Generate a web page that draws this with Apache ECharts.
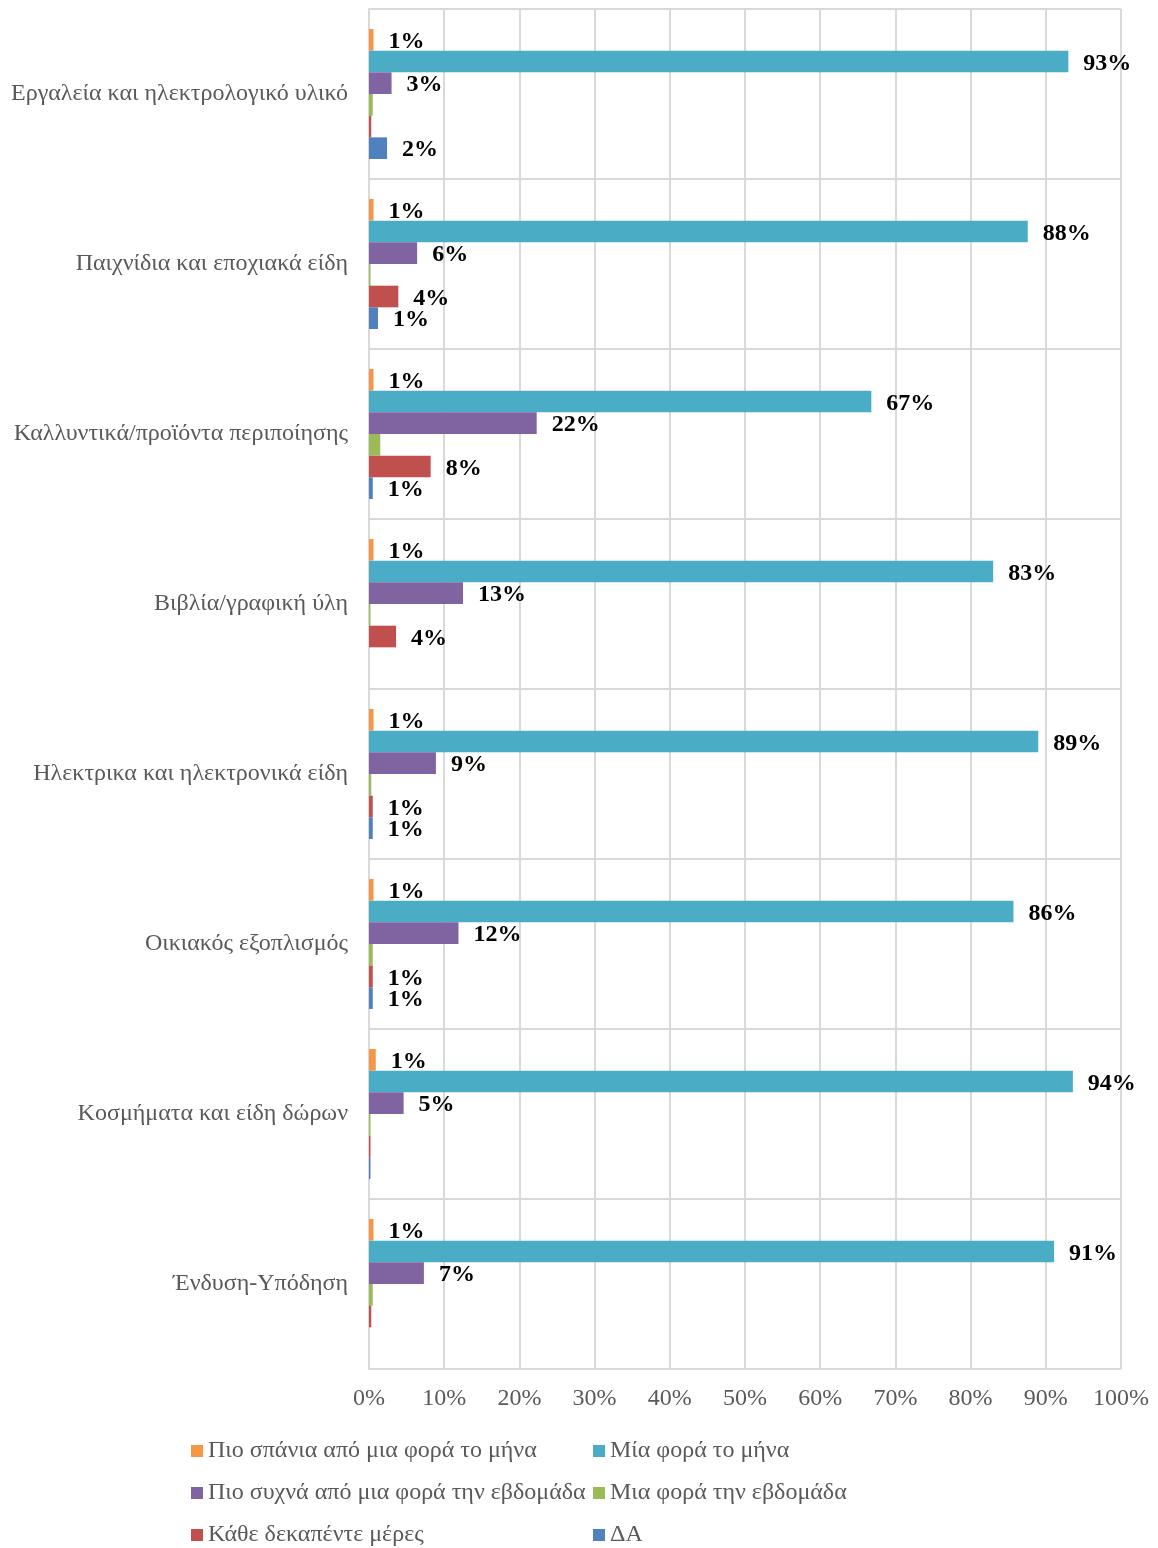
<!DOCTYPE html>
<html>
<head>
<meta charset="utf-8">
<script src="https://cdn.jsdelivr.net/npm/echarts@6/dist/echarts.min.js"></script>
<style>
  html, body { margin: 0; padding: 0; background: #fff; }
  #chart { width: 1158px; height: 1548px; }
</style>
</head>
<body>
<div id="chart"></div>
<script>
// Product categories, listed top to bottom
const categories = [
  'Εργαλεία και ηλεκτρολογικό υλικό',
  'Παιχνίδια και εποχιακά είδη',
  'Καλλυντικά/προϊόντα περιποίησης',
  'Βιβλία/γραφική ύλη',
  'Ηλεκτρικα και ηλεκτρονικά είδη',
  'Οικιακός εξοπλισμός',
  'Κοσμήματα και είδη δώρων',
  'Ένδυση-Υπόδηση'
];

// Purchase frequency shares (%) per category
const rarerThanMonthly  = [0.6, 0.6, 0.6, 0.6, 0.6, 0.6, 0.9, 0.6];
const onceAMonth        = [93.0, 87.6, 66.8, 83.0, 89.0, 85.7, 93.6, 91.1];
const moreThanWeekly    = [3.0, 6.4, 22.3, 12.5, 8.9, 11.9, 4.6, 7.3];
const onceAWeek         = [0.5, 0.2, 1.5, 0.2, 0.3, 0.5, 0.2, 0.5];
const everyFortnight    = [0.3, 3.9, 8.2, 3.6, 0.5, 0.5, 0.2, 0.3];
const noAnswer          = [2.4, 1.2, 0.5, 0.0, 0.5, 0.5, 0.2, 0.0];

// Category indices whose bar carries a value label (null = every category)
const labelledRarer     = null;
const labelledMonthly   = null;
const labelledMore      = null;
const labelledWeekly    = [];
const labelledFortnight = [1, 2, 3, 4, 5];
const labelledNoAnswer  = [0, 1, 2, 4, 5];

// x-axis ticks
const xTicks = { min: 0, max: 100, interval: 10 };

const seriesDefs = [
  { name: 'Πιο σπάνια από μια φορά το μήνα', data: rarerThanMonthly, labelled: labelledRarer, color: '#F79646' },
  { name: 'Μία φορά το μήνα', data: onceAMonth, labelled: labelledMonthly, color: '#4BACC6' },
  { name: 'Πιο συχνά από μια φορά την εβδομάδα', data: moreThanWeekly, labelled: labelledMore, color: '#8064A2' },
  { name: 'Μια φορά την εβδομάδα', data: onceAWeek, labelled: labelledWeekly, color: '#9BBB59' },
  { name: 'Κάθε δεκαπέντε μέρες', data: everyFortnight, labelled: labelledFortnight, color: '#C0504D' },
  { name: 'ΔΑ', data: noAnswer, labelled: labelledNoAnswer, color: '#4F81BD' }
];

const serif = '"Liberation Serif", "DejaVu Serif", serif';
const gridColor = '#d9d9d9';
const textGray = '#595959';

const series = seriesDefs.map(def => ({
  name: def.name,
  type: 'bar',
  barGap: '0%',
  barCategoryGap: '23.5%',
  itemStyle: { color: def.color },
  data: def.data.map((v, i) => ({
    value: v,
    label: { show: def.labelled === null || def.labelled.indexOf(i) !== -1 }
  })),
  label: {
    position: 'right',
    distance: 15,
    offset: [0, 2],
    color: '#000',
    fontFamily: serif,
    fontWeight: 'bold',
    fontSize: 24,
    formatter: p => Math.round(p.value) + '%'
  }
}));

// Legend: two columns, three rows, one legend box per entry
const legendCols = [191, 593];
const legendRows = [1439, 1481, 1523];
const legends = seriesDefs.map((def, i) => ({
  orient: 'horizontal',
  icon: 'rect',
  itemWidth: 12,
  itemHeight: 12,
  left: legendCols[i % 2],
  top: legendRows[Math.floor(i / 2)],
  padding: 0,
  selectedMode: false,
  data: [def.name],
  textStyle: { color: textGray, fontFamily: serif, fontSize: 24 }
}));

const chart = echarts.init(document.getElementById('chart'), null, { renderer: 'canvas' });
chart.setOption({
  animation: false,
  backgroundColor: '#fff',
  grid: { left: 369, right: 37, top: 9, bottom: 179, containLabel: false },
  legend: legends,
  xAxis: {
    type: 'value',
    min: xTicks.min,
    max: xTicks.max,
    interval: xTicks.interval,
    axisLine: { show: false },
    axisTick: { show: false },
    splitLine: { show: true, lineStyle: { color: gridColor, width: 2 } },
    axisLabel: {
      formatter: '{value}%',
      color: textGray,
      fontFamily: serif,
      fontSize: 24,
      margin: 18
    }
  },
  yAxis: {
    type: 'category',
    inverse: true,
    data: categories,
    axisLine: { show: true, lineStyle: { color: gridColor, width: 2 } },
    axisTick: { show: false },
    splitLine: { show: true, lineStyle: { color: gridColor, width: 2 } },
    axisLabel: {
      color: textGray,
      fontFamily: serif,
      fontSize: 24,
      margin: 21,
      padding: [3, 0, 0, 0]
    }
  },
  series: series
});
</script>
</body>
</html>
